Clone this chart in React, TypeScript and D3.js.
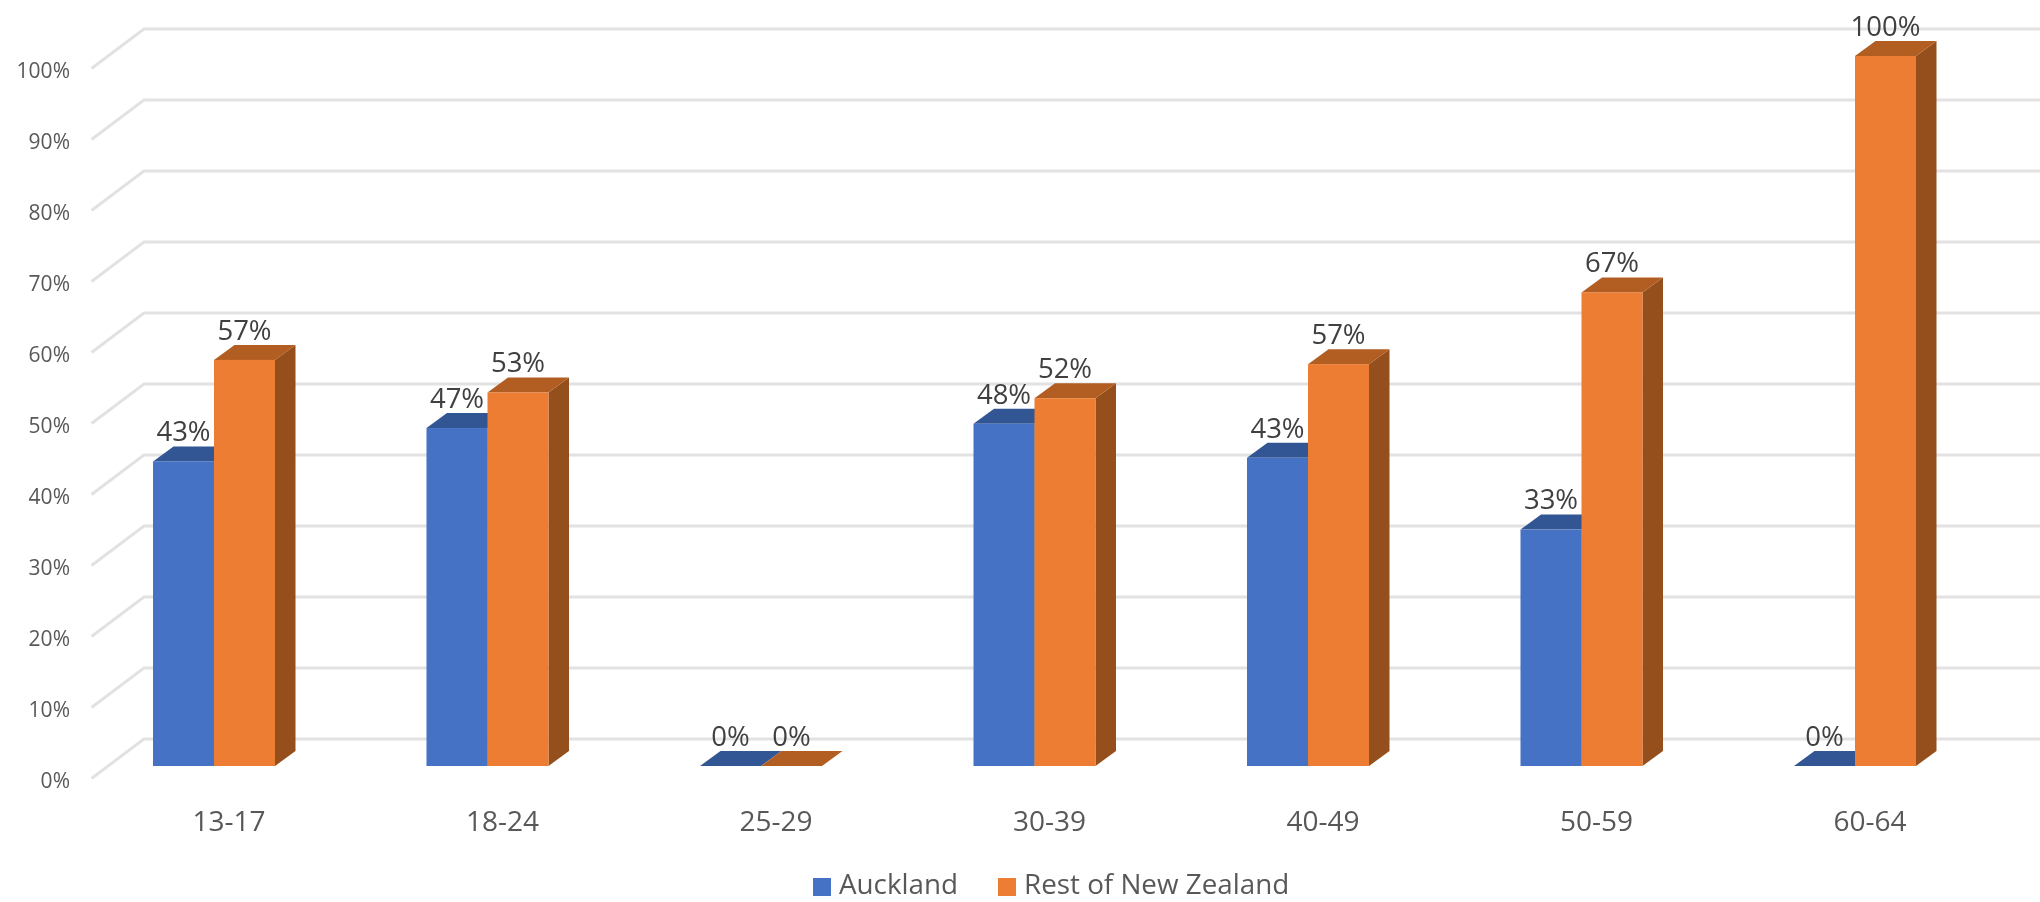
import React from "react";
import * as d3 from "d3";

const categories = ["13-17", "18-24", "25-29", "30-39", "40-49", "50-59", "60-64"];
const auckland = [42.9, 47.6, 0, 48.2, 43.4, 33.3, 0];
const rest = [57.2, 52.6, 0, 51.8, 56.6, 66.7, 100];
const aucklandLabels = ["43%", "47%", "0%", "48%", "43%", "33%", "0%"];
const restLabels = ["57%", "53%", "0%", "52%", "57%", "67%", "100%"];
const yTicks = [0, 10, 20, 30, 40, 50, 60, 70, 80, 90, 100];
const seriesNames = ["Auckland", "Rest of New Zealand"];

const FONT = "'Open Sans', 'Noto Sans', sans-serif";
const W = 2040, H = 902;

const y = d3.scaleLinear().domain([0, 100]).range([766, 56]);
const x = d3.scaleBand<string>().domain(categories).range([99.5, 99.5 + 273.5 * 7]).paddingInner(0).paddingOuter(0);
const barW = 61;
const depthX = 20.5, depthY = 15;
const groupX = (c: string) => (x(c) as number) + 53.5;

const palette = [
  { front: "#4472C4", top: "#335593", side: "#2B4A82" },
  { front: "#ED7D31", top: "#B25D20", side: "#954F1B" },
];

function Bar({ x0, v, p }: { x0: number; v: number; p: { front: string; top: string; side: string } }) {
  const t = y(v), b = y(0), r = x0 + barW;
  const poly = (pts: number[][]) => pts.map((q) => q.join(",")).join(" ");
  return (
    <g>
      <polygon fill={p.side} points={poly([[r, t], [r + depthX, t - depthY], [r + depthX, b - depthY], [r, b]])} />
      <polygon fill={p.top} points={poly([[x0, t], [x0 + depthX, t - depthY], [r + depthX, t - depthY], [r, t]])} />
      {v > 0 && <rect x={x0} y={t} width={barW} height={b - t} fill={p.front} />}
    </g>
  );
}

export default function App() {
  return (
    <svg width={W} height={H} viewBox={`0 0 ${W} ${H}`} style={{ position: "absolute", left: 0, top: 0, background: "#fff" }} fontFamily={FONT}>
      <defs>
        <filter id="soft" filterUnits="userSpaceOnUse" x={0} y={0} width={W} height={H}>
          <feGaussianBlur stdDeviation="0.6" />
        </filter>
      </defs>
      <g filter="url(#soft)">
        {yTicks.map((t) => (
          <polyline key={t} fill="none" stroke="#E2E2E2" strokeWidth={3}
            points={`91.5,${y(t) + 12.5} 144,${y(t) - 27} ${W},${y(t) - 27}`} />
        ))}
        {yTicks.map((t) => (
          <text key={t} x={70} y={y(t) + 14} dy="0.36em" textAnchor="end" fontSize={21} fill="#595959">{t}%</text>
        ))}
        {categories.map((c, i) => (
          <g key={c}>
            <Bar x0={groupX(c)} v={auckland[i]} p={palette[0]} />
            <Bar x0={groupX(c) + barW} v={rest[i]} p={palette[1]} />
          </g>
        ))}
        {categories.map((c, i) => (
          <g key={c} fontSize={27.5} fill="#404040" textAnchor="middle">
            <text x={groupX(c) + barW / 2} y={y(auckland[i]) - 30} dy="0.36em">{aucklandLabels[i]}</text>
            <text x={groupX(c) + barW * 1.5} y={y(rest[i]) - 30} dy="0.36em">{restLabels[i]}</text>
          </g>
        ))}
        {categories.map((c) => (
          <text key={c} x={groupX(c) + barW + 15} y={821} dy="0.36em" textAnchor="middle" fontSize={28} fill="#595959">{c}</text>
        ))}
        <rect x={813} y={878} width={18} height={18} fill={palette[0].front} />
        <text x={839} y={893.5} fontSize={27.8} fill="#595959">{seriesNames[0]}</text>
        <rect x={998} y={878} width={18} height={18} fill={palette[1].front} />
        <text x={1024} y={893.5} fontSize={27.8} fill="#595959">{seriesNames[1]}</text>
      </g>
    </svg>
  );
}
